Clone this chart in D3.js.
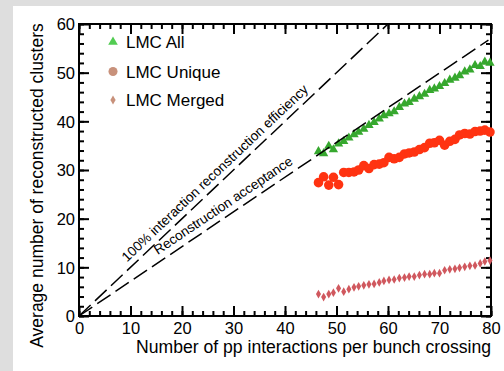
<!DOCTYPE html>
<html>
<head>
<meta charset="utf-8">
<script src="https://cdn.jsdelivr.net/npm/d3@7"></script>
<style>
  body { margin: 0; background: #dedede; }
  svg { display: block; font-family: "Liberation Sans", Arial, sans-serif; }
</style>
</head>
<body>
<div id="chart"></div>
<script>
// crossings per event (x) shared by the three series
var pileup = [46.5, 47.5, 48.5, 49.4, 50.4, 51.4, 52.4, 53.4, 54.3, 55.3, 56.3, 57.3, 58.3, 59.2, 60.2,
  61.2, 62.2, 63.2, 64.1, 65.1, 66.1, 67.1, 68.1, 69.0, 70.0, 71.0, 72.0, 73.0, 73.9, 74.9,
  75.9, 76.9, 77.9, 78.8, 79.8];

var lmcAll = [33.8, 33.4, 34.9, 34.2, 35.4, 35.9, 36.6, 37.3, 37.8, 38.4, 39.2, 39.8, 40.5, 41.2, 41.6,
  42.0, 42.9, 43.6, 43.9, 44.6, 45.1, 45.6, 46.4, 46.7, 47.2, 47.8, 48.5, 48.9, 49.4, 50.2,
  50.6, 51.5, 51.3, 52.2, 52.0];

var lmcUnique = [27.4, 28.6, 26.9, 28.5, 27.0, 29.5, 29.5, 29.6, 30.0, 30.9, 30.3, 31.1, 31.2, 31.5, 32.6,
  32.3, 32.6, 33.3, 33.5, 33.7, 34.2, 34.6, 35.5, 35.6, 36.1, 35.1, 35.9, 36.3, 37.2, 37.5,
  37.4, 37.9, 38.0, 38.2, 37.8];

var lmcMerged = [4.5, 3.9, 4.5, 4.8, 5.7, 5.0, 5.5, 5.9, 6.1, 6.3, 6.5, 6.6, 6.9, 7.2, 7.4,
  7.5, 7.8, 7.9, 8.1, 8.1, 8.4, 8.6, 8.6, 8.8, 8.8, 9.4, 9.6, 9.7, 9.9, 10.1,
  10.3, 10.4, 10.8, 11.2, 11.4];

// reference lines
var efficiencyLine = [[0, 0], [60, 60]];
var acceptanceLine = [[0, 0], [79.5, 56.7]];

var xMajor = [0, 10, 20, 30, 40, 50, 60, 70, 80];
var yMajor = [0, 10, 20, 30, 40, 50, 60];

var width = 504, height = 371;
var pLeft = 79, pRight = 491, pTop = 24, pBottom = 316;

var svg = d3.select("#chart").append("svg")
    .attr("width", width)
    .attr("height", height);

svg.append("rect")
    .attr("x", 13).attr("y", 6)
    .attr("width", width - 13).attr("height", height - 6)
    .attr("fill", "#fff");

var x = d3.scaleLinear().domain([0, 80]).range([pLeft, pRight]);
var y = d3.scaleLinear().domain([0, 60]).range([pBottom, pTop]);

var xMinor = d3.range(0, 81, 2);
var yMinor = d3.range(0, 61, 2);

function tickAxis(axisFn, scale, vals, size, labels, pos) {
    var ax = axisFn(scale).tickValues(vals).tickSize(-size).tickSizeOuter(0);
    if (!labels) ax.tickFormat("");
    var g = svg.append("g").attr("transform", pos).call(ax);
    g.select(".domain").remove();
    g.selectAll(".tick line").attr("stroke", "#000").attr("stroke-width", 2);
    return g;
}

// minor ticks all sides
tickAxis(d3.axisBottom, x, xMinor, 5, false, "translate(0," + pBottom + ")");
tickAxis(d3.axisTop, x, xMinor, 5, false, "translate(0," + pTop + ")");
tickAxis(d3.axisLeft, y, yMinor, 5, false, "translate(" + pLeft + ",0)");
tickAxis(d3.axisRight, y, yMinor, 5, false, "translate(" + pRight + ",0)");

// major ticks
var xAx = tickAxis(d3.axisBottom, x, xMajor, 10, true, "translate(0," + pBottom + ")");
xAx.selectAll(".tick text").attr("y", 18).attr("dy", 0);
tickAxis(d3.axisTop, x, xMajor, 10, false, "translate(0," + pTop + ")");
var yAx = tickAxis(d3.axisLeft, y, yMajor, 10, true, "translate(" + pLeft + ",0)");
yAx.selectAll(".tick text").attr("x", -4).attr("dy", "0.36em");
tickAxis(d3.axisRight, y, yMajor, 10, false, "translate(" + pRight + ",0)");

svg.selectAll(".tick text")
    .attr("fill", "#000")
    .style("font-size", "16.5px")
    .style("font-family", "'Liberation Sans', Arial, sans-serif");

// frame
svg.append("rect")
    .attr("x", pLeft).attr("y", pTop)
    .attr("width", pRight - pLeft).attr("height", pBottom - pTop)
    .attr("fill", "none")
    .attr("stroke", "#000")
    .attr("stroke-width", 2);

// data
var merged = svg.append("g");
merged.selectAll("path").data(pileup).enter().append("path")
    .attr("d", d3.symbol().type(d3.symbolDiamond).size(22))
    .attr("transform", function(d, i) { return "translate(" + x(d) + "," + y(lmcMerged[i]) + ")"; })
    .attr("fill", "#d0585e");

var uniq = svg.append("g");
uniq.selectAll("circle").data(pileup).enter().append("circle")
    .attr("cx", function(d) { return x(d); })
    .attr("cy", function(d, i) { return y(lmcUnique[i]); })
    .attr("r", 4.8)
    .attr("fill", "#ff3311");

var all = svg.append("g");
all.selectAll("path").data(pileup).enter().append("path")
    .attr("d", d3.symbol().type(d3.symbolTriangle).size(38))
    .attr("transform", function(d, i) { return "translate(" + x(d) + "," + y(lmcAll[i]) + ")"; })
    .attr("fill", "#36a82e");

// dashed reference lines
var line = d3.line().x(function(d) { return x(d[0]); }).y(function(d) { return y(d[1]); });
[efficiencyLine, acceptanceLine].forEach(function(l) {
    svg.append("path")
        .attr("d", line(l))
        .attr("fill", "none")
        .attr("stroke", "#000")
        .attr("stroke-width", 1.5)
        .attr("stroke-dasharray", "16,6");
});

function lineLabel(l, at, off, txt) {
    var x0 = x(l[0][0]), y0 = y(l[0][1]), x1 = x(l[1][0]), y1 = y(l[1][1]);
    var ang = Math.atan2(y1 - y0, x1 - x0);
    var t = (at - l[0][0]) / (l[1][0] - l[0][0]);
    var px = x0 + t * (x1 - x0) + off * Math.sin(ang);
    var py = y0 + t * (y1 - y0) - off * Math.cos(ang);
    svg.append("text")
        .attr("transform", "translate(" + px + "," + py + ")rotate(" + (ang * 180 / Math.PI) + ")")
        .style("font-size", "13.6px")
        .attr("fill", "#000")
        .text(txt);
}
lineLabel(efficiencyLine, 10.1, 6, "100% interaction reconstruction efficiency");
lineLabel(acceptanceLine, 16, 6.5, "Reconstruction acceptance");

// legend
var legend = [
    { name: "LMC All", sym: d3.symbolTriangle, size: 40, color: "#52cc52", y: 42 },
    { name: "LMC Unique", sym: d3.symbolCircle, size: 64, color: "#c8917b", y: 71.5 },
    { name: "LMC Merged", sym: d3.symbolDiamond, size: 24, color: "#c8917b", y: 100 }
];
var lg = svg.append("g");
legend.forEach(function(e) {
    lg.append("path")
        .attr("d", d3.symbol().type(e.sym).size(e.size))
        .attr("transform", "translate(113," + e.y + ")")
        .attr("fill", e.color);
    lg.append("text")
        .attr("x", 126).attr("y", e.y + 6)
        .style("font-size", "17px")
        .attr("fill", "#000")
        .text(e.name);
});

// axis titles
svg.append("text")
    .attr("x", pRight).attr("y", 352.5)
    .attr("text-anchor", "end")
    .style("font-size", "17.6px")
    .attr("fill", "#000")
    .text("Number of pp interactions per bunch crossing");

svg.append("text")
    .attr("transform", "translate(42.5,185.5)rotate(-90)")
    .attr("text-anchor", "middle")
    .style("font-size", "17.5px")
    .attr("fill", "#000")
    .text("Average number of reconstructed clusters");
</script>
</body>
</html>
